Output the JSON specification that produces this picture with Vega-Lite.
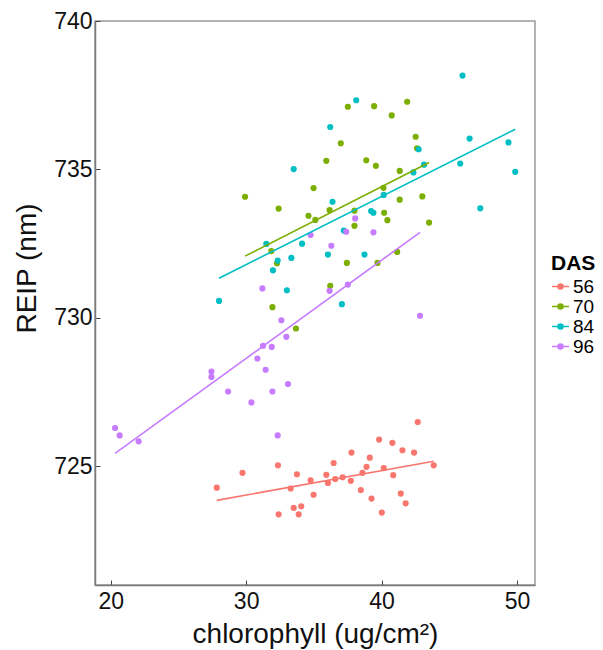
{
  "$schema": "https://vega.github.io/schema/vega-lite/v6.json",
  "autosize": {"type": "none"},
  "padding": {"left": 95, "top": 21, "right": 68, "bottom": 65},
  "width": 440,
  "height": 564,
  "background": "white",
  "config": {
    "font": "Liberation Sans",
    "view": {"stroke": "#9a9a9a", "strokeWidth": 1.5},
    "axis": {
      "grid": false,
      "labelFont": "Liberation Sans",
      "titleFont": "Liberation Sans",
      "labelFontSize": 23,
      "labelColor": "#111111",
      "titleFontSize": 28,
      "titleFontWeight": "normal",
      "titleColor": "#111111",
      "domainColor": "#7a7a7a",
      "domainWidth": 1.5,
      "tickColor": "#444444",
      "tickSize": -5,
      "tickWidth": 1
    }
  },
  "data": {
    "values": [
      {"DAS": 56, "chl": 32.35, "REIP": 725.03},
      {"DAS": 56, "chl": 29.73, "REIP": 724.78},
      {"DAS": 56, "chl": 33.75, "REIP": 724.73},
      {"DAS": 56, "chl": 27.83, "REIP": 724.28},
      {"DAS": 56, "chl": 33.29, "REIP": 724.25},
      {"DAS": 56, "chl": 34.76, "REIP": 724.53},
      {"DAS": 56, "chl": 33.51, "REIP": 723.60},
      {"DAS": 56, "chl": 34.07, "REIP": 723.65},
      {"DAS": 56, "chl": 32.40, "REIP": 723.38},
      {"DAS": 56, "chl": 33.88, "REIP": 723.38},
      {"DAS": 56, "chl": 42.67, "REIP": 726.49},
      {"DAS": 56, "chl": 39.82, "REIP": 725.90},
      {"DAS": 56, "chl": 40.80, "REIP": 725.79},
      {"DAS": 56, "chl": 41.54, "REIP": 725.54},
      {"DAS": 56, "chl": 42.40, "REIP": 725.46},
      {"DAS": 56, "chl": 37.78, "REIP": 725.46},
      {"DAS": 56, "chl": 39.13, "REIP": 725.29},
      {"DAS": 56, "chl": 36.46, "REIP": 725.11},
      {"DAS": 56, "chl": 43.85, "REIP": 725.03},
      {"DAS": 56, "chl": 38.89, "REIP": 724.98},
      {"DAS": 56, "chl": 40.16, "REIP": 724.94},
      {"DAS": 56, "chl": 38.59, "REIP": 724.78},
      {"DAS": 56, "chl": 35.92, "REIP": 724.71},
      {"DAS": 56, "chl": 40.86, "REIP": 724.70},
      {"DAS": 56, "chl": 36.58, "REIP": 724.57},
      {"DAS": 56, "chl": 37.12, "REIP": 724.63},
      {"DAS": 56, "chl": 36.04, "REIP": 724.44},
      {"DAS": 56, "chl": 37.73, "REIP": 724.51},
      {"DAS": 56, "chl": 38.47, "REIP": 724.20},
      {"DAS": 56, "chl": 34.98, "REIP": 724.04},
      {"DAS": 56, "chl": 41.42, "REIP": 724.08},
      {"DAS": 56, "chl": 39.26, "REIP": 723.91},
      {"DAS": 56, "chl": 41.78, "REIP": 723.75},
      {"DAS": 56, "chl": 40.02, "REIP": 723.44},
      {"DAS": 70, "chl": 29.92, "REIP": 734.08},
      {"DAS": 70, "chl": 32.40, "REIP": 733.68},
      {"DAS": 70, "chl": 34.60, "REIP": 733.44},
      {"DAS": 70, "chl": 31.86, "REIP": 732.25},
      {"DAS": 70, "chl": 32.28, "REIP": 731.84},
      {"DAS": 70, "chl": 31.94, "REIP": 730.36},
      {"DAS": 70, "chl": 33.68, "REIP": 729.64},
      {"DAS": 70, "chl": 37.51, "REIP": 737.11},
      {"DAS": 70, "chl": 39.45, "REIP": 737.13},
      {"DAS": 70, "chl": 41.89, "REIP": 737.28},
      {"DAS": 70, "chl": 40.75, "REIP": 736.82},
      {"DAS": 70, "chl": 42.52, "REIP": 736.10},
      {"DAS": 70, "chl": 36.99, "REIP": 735.88},
      {"DAS": 70, "chl": 42.62, "REIP": 735.71},
      {"DAS": 70, "chl": 35.92, "REIP": 735.29},
      {"DAS": 70, "chl": 38.87, "REIP": 735.31},
      {"DAS": 70, "chl": 39.58, "REIP": 735.12},
      {"DAS": 70, "chl": 41.34, "REIP": 734.95},
      {"DAS": 70, "chl": 34.98, "REIP": 734.37},
      {"DAS": 70, "chl": 40.14, "REIP": 734.38},
      {"DAS": 70, "chl": 43.01, "REIP": 734.09},
      {"DAS": 70, "chl": 41.34, "REIP": 733.98},
      {"DAS": 70, "chl": 35.11, "REIP": 733.30},
      {"DAS": 70, "chl": 36.16, "REIP": 733.63},
      {"DAS": 70, "chl": 38.00, "REIP": 733.61},
      {"DAS": 70, "chl": 40.19, "REIP": 733.54},
      {"DAS": 70, "chl": 40.43, "REIP": 733.29},
      {"DAS": 70, "chl": 38.00, "REIP": 733.10},
      {"DAS": 70, "chl": 43.51, "REIP": 733.21},
      {"DAS": 70, "chl": 41.15, "REIP": 732.22},
      {"DAS": 70, "chl": 37.44, "REIP": 731.85},
      {"DAS": 70, "chl": 39.70, "REIP": 731.85},
      {"DAS": 70, "chl": 36.21, "REIP": 731.08},
      {"DAS": 84, "chl": 33.51, "REIP": 735.01},
      {"DAS": 84, "chl": 31.49, "REIP": 732.49},
      {"DAS": 84, "chl": 34.13, "REIP": 732.50},
      {"DAS": 84, "chl": 32.33, "REIP": 731.93},
      {"DAS": 84, "chl": 33.34, "REIP": 732.02},
      {"DAS": 84, "chl": 31.98, "REIP": 731.60},
      {"DAS": 84, "chl": 33.01, "REIP": 730.93},
      {"DAS": 84, "chl": 28.00, "REIP": 730.57},
      {"DAS": 84, "chl": 45.98, "REIP": 738.16},
      {"DAS": 84, "chl": 38.13, "REIP": 737.33},
      {"DAS": 84, "chl": 36.21, "REIP": 736.43},
      {"DAS": 84, "chl": 46.50, "REIP": 736.04},
      {"DAS": 84, "chl": 42.74, "REIP": 735.68},
      {"DAS": 84, "chl": 49.37, "REIP": 735.91},
      {"DAS": 84, "chl": 43.14, "REIP": 735.16},
      {"DAS": 84, "chl": 45.81, "REIP": 735.20},
      {"DAS": 84, "chl": 49.87, "REIP": 734.92},
      {"DAS": 84, "chl": 42.35, "REIP": 734.90},
      {"DAS": 84, "chl": 40.16, "REIP": 734.14},
      {"DAS": 84, "chl": 36.38, "REIP": 733.91},
      {"DAS": 84, "chl": 47.29, "REIP": 733.69},
      {"DAS": 84, "chl": 39.23, "REIP": 733.60},
      {"DAS": 84, "chl": 39.40, "REIP": 733.54},
      {"DAS": 84, "chl": 37.21, "REIP": 732.94},
      {"DAS": 84, "chl": 36.04, "REIP": 732.13},
      {"DAS": 84, "chl": 38.74, "REIP": 732.13},
      {"DAS": 84, "chl": 37.07, "REIP": 730.46},
      {"DAS": 96, "chl": 34.76, "REIP": 732.79},
      {"DAS": 96, "chl": 31.20, "REIP": 730.99},
      {"DAS": 96, "chl": 32.60, "REIP": 729.92},
      {"DAS": 96, "chl": 32.97, "REIP": 729.36},
      {"DAS": 96, "chl": 31.25, "REIP": 729.06},
      {"DAS": 96, "chl": 31.89, "REIP": 729.02},
      {"DAS": 96, "chl": 30.83, "REIP": 728.63},
      {"DAS": 96, "chl": 31.44, "REIP": 728.25},
      {"DAS": 96, "chl": 27.44, "REIP": 728.19},
      {"DAS": 96, "chl": 27.44, "REIP": 728.01},
      {"DAS": 96, "chl": 28.67, "REIP": 727.52},
      {"DAS": 96, "chl": 31.94, "REIP": 727.52},
      {"DAS": 96, "chl": 33.09, "REIP": 727.77},
      {"DAS": 96, "chl": 30.39, "REIP": 727.15},
      {"DAS": 96, "chl": 20.32, "REIP": 726.29},
      {"DAS": 96, "chl": 20.66, "REIP": 726.04},
      {"DAS": 96, "chl": 22.06, "REIP": 725.84},
      {"DAS": 96, "chl": 32.33, "REIP": 726.04},
      {"DAS": 96, "chl": 42.84, "REIP": 730.07},
      {"DAS": 96, "chl": 38.05, "REIP": 733.35},
      {"DAS": 96, "chl": 37.39, "REIP": 732.90},
      {"DAS": 96, "chl": 39.40, "REIP": 732.88},
      {"DAS": 96, "chl": 36.29, "REIP": 732.43},
      {"DAS": 96, "chl": 36.16, "REIP": 730.91},
      {"DAS": 96, "chl": 37.51, "REIP": 731.12}
    ]
  },
  "encoding": {
    "x": {
      "field": "chl", "type": "quantitative",
      "scale": {"domain": [18.84, 51.33], "nice": false, "zero": false},
      "axis": {"values": [20, 30, 40, 50], "title": "chlorophyll (ug/cm²)", "labelPadding": 10, "titleBaseline": "alphabetic", "titleY": 57}
    },
    "y": {
      "field": "REIP", "type": "quantitative",
      "scale": {"domain": [721, 740], "nice": false, "zero": false},
      "axis": {"values": [725, 730, 735, 740], "title": "REIP (nm)", "labelPadding": 8, "titleBaseline": "alphabetic", "titleAngle": 270, "titleX": -60, "titleY": 247}
    },
    "color": {
      "field": "DAS", "type": "nominal",
      "scale": {"domain": [56, 70, 84, 96], "range": ["#F8766D", "#7CAE00", "#00BFC4", "#C77CFF"]},
      "legend": {
        "title": "DAS",
        "orient": "none",
        "legendX": 456,
        "legendY": 232,
        "titleFontSize": 21,
        "titleFontWeight": "bold",
        "titleColor": "#000000",
        "titlePadding": 3,
        "labelFontSize": 19,
        "labelColor": "#000000",
        "labelOffset": 3,
        "symbolType": "M-1,0H1M-0.3,0A0.3,0.3,0,1,0,0.3,0A0.3,0.3,0,1,0,-0.3,0",
        "symbolSize": 289,
        "symbolStrokeWidth": 1.5,
        "rowPadding": 0,
        "encode": {
          "symbols": {"update": {"fill": {"scale": "color", "field": "value"}, "stroke": {"scale": "color", "field": "value"}, "opacity": {"value": 1}}}
        }
      }
    }
  },
  "layer": [
    {
      "mark": {"type": "circle", "size": 38, "opacity": 1}
    },
    {
      "transform": [{"regression": "REIP", "on": "chl", "groupby": ["DAS"]}],
      "mark": {"type": "line", "strokeWidth": 1.6}
    }
  ]
}
